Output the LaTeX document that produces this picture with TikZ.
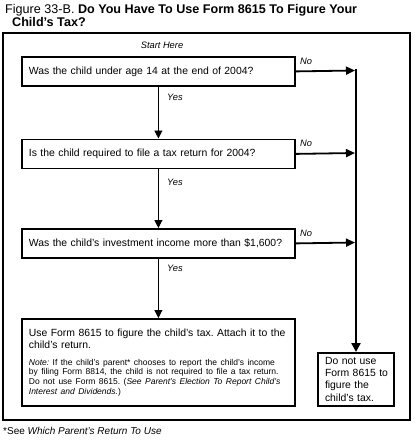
\documentclass[tikz,border=0pt]{standalone}
\usepackage{fontspec}
\setmainfont{Liberation Sans}
\usetikzlibrary{arrows.meta}
\frenchspacing
\begin{document}
\begin{tikzpicture}[x=1pt,y=-1pt,
  bodyfont/.style={font=\fontsize{10.4}{12.3}\selectfont},
  qbox/.style={draw, line width=1.8pt, anchor=north west, minimum width=273pt,
    minimum height=29pt, inner xsep=7pt, inner ysep=4pt, align=left, text width=259pt, bodyfont},
  resbox/.style={draw, line width=1.6pt, minimum width=76pt, minimum height=53pt,
    inner xsep=7pt, align=left, text width=62pt, bodyfont},
  lbl/.style={font=\fontsize{9.3}{11}\selectfont\itshape, inner sep=0pt},
  yesarrow/.style={line width=0.9pt, -{Triangle[length=8pt,width=8pt]}},
  noarrow/.style={line width=1.8pt, -{Triangle[length=9pt,width=8pt]}},
  vline/.style={line width=2.4pt, -{Triangle[length=9pt,width=9pt]}},
  frame/.style={line width=1.8pt}
]
\useasboundingbox (0,0) rectangle (415,445);

% title
\node[anchor=north west, align=left, inner sep=0pt,
  font=\fontsize{12.6}{13}\selectfont] (title) at (5,4)
  {Figure 33-B. \textbf{Do You Have To Use Form 8615 To Figure Your}\\
   \hspace*{7pt}\textbf{Child’s Tax?}};

% outer frame
\draw[frame] (3,33) rectangle (410,420);

\node[lbl] (start) at (162,45) {Start Here};

% question boxes
\node[qbox] (q1) at (21,56) {Was the child under age 14 at the end of 2004?};
\node[qbox] (q2) at (21,138.5) {Is the child required to file a tax return for 2004?};
\node[qbox] (q3) at (21,228) {Was the child’s investment income more than \$1,600?};

\node[qbox, minimum height=87pt] (q4) at (21,318)
  {{\fontsize{10.4}{12.3}\selectfont
    \mbox{Use Form 8615 to figure the child’s tax. Attach it to the}\\
    child’s return.\par}
   \vspace{7pt}
   {\fontsize{8.5}{9.6}\selectfont
    \mbox{\textit{Note:} If the child’s parent* chooses to report the child’s income}\\
    \mbox{by filing Form 8814, the child is not required to file a tax return.}\\
    \mbox{Do not use Form 8615. (\textit{See Parent’s Election To Report Child’s}}\\
    \mbox{\textit{Interest and Dividends.})}\par}};

\node[resbox, anchor=north] (res) at (356,352)
  {\mbox{Do not use}\\ \mbox{Form 8615 to}\\ \mbox{figure the}\\ \mbox{child’s tax.}};

% junction points on the right line
\coordinate (j1) at (356,70.5);
\coordinate (j2) at (356,153);
\coordinate (j3) at (356,242.5);
\coordinate (jtop) at (356,69.3);

% yes arrows
\draw[yesarrow] (q1.south) -- (q2.north);
\draw[yesarrow] (q2.south) -- (q3.north);
\draw[yesarrow] (q3.south) -- (q4.north);

\node[lbl, anchor=west] (y1) at (167,97) {Yes};
\node[lbl, anchor=west] (y2) at (167,182) {Yes};
\node[lbl, anchor=west] (y3) at (167,268) {Yes};

% no arrows
\draw[noarrow] (q1.east) -- ([xshift=-1pt]j1);
\draw[noarrow] (q2.east) -- ([xshift=-1pt]j2);
\draw[noarrow] (q3.east) -- ([xshift=-1pt]j3);
\draw[vline] (jtop) -- (res.north);

\node[lbl, anchor=west] (n1) at (300,61) {No};
\node[lbl, anchor=west] (n2) at (300,143.5) {No};
\node[lbl, anchor=west] (n3) at (300,233) {No};

% footnote
\node[anchor=west, inner sep=0pt, font=\fontsize{10}{12}\selectfont] (foot) at (3,431)
  {*See \textit{Which Parent’s Return To Use}};
\end{tikzpicture}
\end{document}
